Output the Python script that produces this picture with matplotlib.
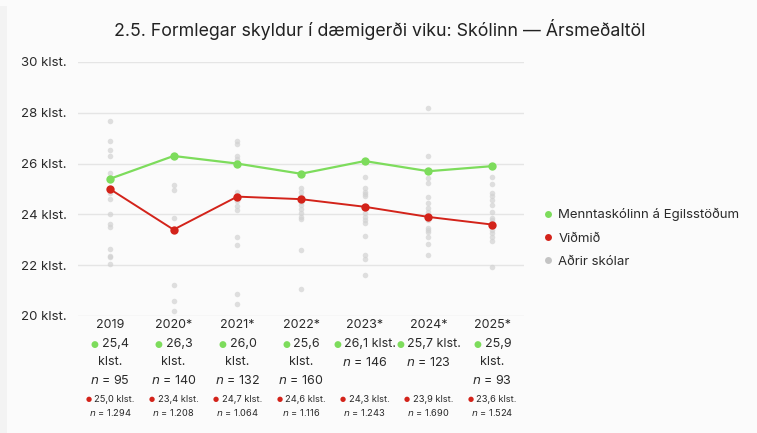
import matplotlib
matplotlib.use("Agg")
import matplotlib.pyplot as plt
import matplotlib.transforms as mtransforms
from matplotlib.offsetbox import TextArea, HPacker, AnnotationBbox
from matplotlib.lines import Line2D
from matplotlib.patches import Rectangle

plt.rcParams['font.family'] = ['Inter', 'DejaVu Sans']

# ---------------- data ----------------
years = ["2019", "2020*", "2021*", "2022*", "2023*", "2024*", "2025*"]
school_vals = [25.4, 26.3, 26.0, 25.6, 26.1, 25.7, 25.9]
school_n = [95, 140, 132, 160, 146, 123, 93]
bench_vals = [25.0, 23.4, 24.7, 24.6, 24.3, 23.9, 23.6]
bench_n = [1294, 1208, 1064, 1116, 1243, 1690, 1524]
label_wrapped = [True, True, True, True, False, False, True]

other_2019 = [27.66, 26.89, 26.52, 26.29, 25.62, 24.83, 24.59, 24.0, 23.61, 23.52, 22.62, 22.38, 22.34, 22.03]
other_2020 = [25.16, 24.96, 23.87, 21.22, 20.58, 20.21]
other_2021 = [26.9, 26.76, 26.29, 26.18, 24.9, 24.53, 24.34, 24.17, 23.12, 22.78, 20.87, 20.49]
other_2022 = [25.03, 24.9, 24.72, 24.5, 24.37, 24.21, 24.07, 23.91, 23.81, 22.6, 21.05]
other_2023 = [25.49, 25.05, 24.9, 24.79, 24.72, 24.04, 23.91, 23.78, 23.65, 23.15, 22.4, 22.23, 21.63]
other_2024 = [28.19, 26.3, 25.42, 25.22, 24.7, 24.44, 24.24, 24.11, 23.78, 23.45, 23.39, 23.32, 23.12, 22.82, 22.4]
other_2025 = [25.46, 25.18, 24.86, 24.72, 24.57, 24.37, 24.11, 23.85, 23.78, 23.67, 23.39, 23.25, 23.12, 22.95, 21.92]
others = [other_2019, other_2020, other_2021, other_2022, other_2023, other_2024, other_2025]

y_ticks = [20, 22, 24, 26, 28, 30]
title = "2.5. Formlegar skyldur í dæmigerði viku: Skólinn — Ársmeðaltöl"
legend_labels = ["Menntaskólinn á Egilsstöðum", "Viðmið", "Aðrir skólar"]

GREEN = "#7ddc5c"
RED = "#d3231a"
GRAY = "#d2d2d2"
TEXT = "#2a2a2a"

W, H = 757, 433
fig = plt.figure(figsize=(W / 100, H / 100), dpi=100, facecolor="#fbfbfb")
fig.patches.append(Rectangle((0, 0), 7 / W, 1 - 6 / H, transform=fig.transFigure,
                             facecolor="#f3f3f3", edgecolor="none", zorder=-10))

ax = fig.add_axes([78 / W, 1 - 316 / H, (524 - 78) / W, (316 - 62) / H])
ax.set_facecolor("none")

x = list(range(len(years)))

# other schools
for i, vals in enumerate(others):
    ax.plot([i] * len(vals), vals, linestyle="none", marker="o", markersize=4,
            color=GRAY, alpha=0.7, markeredgewidth=0, zorder=2)

ax.plot(x, bench_vals, color=RED, linewidth=1.4, marker="o", markersize=6,
        markeredgewidth=0, zorder=4)
ax.plot(x, school_vals, color=GREEN, linewidth=1.6, marker="o", markersize=6,
        markeredgewidth=0, zorder=5)

ax.set_xlim(-0.5, 6.5)
ax.set_ylim(20, 30)
ax.set_yticks(y_ticks)
ax.set_yticklabels([f"{t} klst." for t in y_ticks], fontsize=9.5, color=TEXT)
ax.tick_params(axis="y", length=0, pad=8)
ax.set_xticks([])
ax.grid(axis="y", color="#e5e5e5", linewidth=1)
for s in ax.spines.values():
    s.set_visible(False)

# title
fig.text(380 / W, 1 - 30 / H, title, ha="center", va="center", fontsize=12.8, color="#222222")

# x labels below
trans = mtransforms.blended_transform_factory(ax.transData, fig.transFigure)


def fy(py):
    return 1 - py / H


def fmt_dec(v):
    return f"{v:.1f}".replace(".", ",")


def fmt_n(n):
    return f"{n:,}".replace(",", ".")


def dot_label(xi, py, dot_color, text, size, dot_size, sep):
    parts = [TextArea("●", textprops=dict(color=dot_color, fontsize=dot_size, family="DejaVu Sans")),
             TextArea(text, textprops=dict(color=TEXT, fontsize=size))]
    pack = HPacker(children=parts, align="center", pad=0, sep=sep)
    ab = AnnotationBbox(pack, (xi, fy(py)), xycoords=trans, frameon=False,
                        box_alignment=(0.5, 0.5), pad=0)
    ax.add_artist(ab)
    ab.set_clip_on(False)


for i, yr in enumerate(years):
    ax.text(i, fy(325), yr, transform=trans, ha="center", va="center",
            fontsize=9, color=TEXT, clip_on=False)
    if label_wrapped[i]:
        dot_label(i, 344, GREEN, fmt_dec(school_vals[i]), 9, 6.5, 2.5)
        ax.text(i, fy(362), "klst.", transform=trans, ha="center", va="center",
                fontsize=9, color=TEXT, clip_on=False)
        ny = 380
    else:
        dot_label(i, 344, GREEN, fmt_dec(school_vals[i]) + " klst.", 9, 6.5, 2)
        ny = 362
    ax.text(i, fy(ny), f"$n$ = {school_n[i]}", transform=trans, ha="center", va="center",
            fontsize=9, color=TEXT, clip_on=False)
    dot_label(i, 399, RED, fmt_dec(bench_vals[i]) + " klst.", 6.7, 5, 2)
    ax.text(i, fy(413), f"$n$ = {fmt_n(bench_n[i])}", transform=trans, ha="center", va="center",
            fontsize=6.7, color=TEXT, clip_on=False)

# legend
handles = [Line2D([], [], linestyle="none", marker="o", markersize=5, markeredgewidth=0, color=GREEN),
           Line2D([], [], linestyle="none", marker="o", markersize=5, markeredgewidth=0, color=RED),
           Line2D([], [], linestyle="none", marker="o", markersize=5, markeredgewidth=0, color="#c4c4c4")]
fig.legend(handles, legend_labels, loc="center left", bbox_to_anchor=(532 / W, fy(238)),
           frameon=False, fontsize=9.5, handlelength=0.6, handletextpad=0.5,
           labelspacing=0.85, labelcolor=TEXT)

fig.savefig("out.png", dpi=100, facecolor=fig.get_facecolor())
